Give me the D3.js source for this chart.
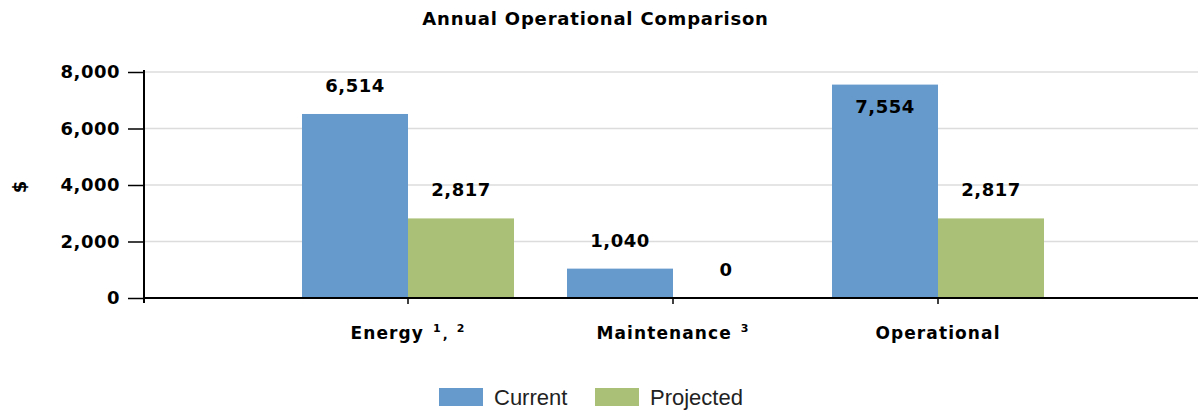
<!DOCTYPE html>
<html>
<head>
<meta charset="utf-8">
<script src="https://cdn.jsdelivr.net/npm/d3@7"></script>
<style>
  html, body { margin: 0; padding: 0; background: #fff; }
  svg { display: block; }
</style>
</head>
<body>
<svg id="chart" width="1198" height="414"></svg>
<script>
// ---- data ----
const categories = ["Energy", "Maintenance", "Operational"];
const categorySup = [["1", "2"], ["3"], []];
const seriesNames = ["Current", "Projected"];
const currentValues = [6514, 1040, 7554];
const projectedValues = [2817, 0, 2817];
const yTicks = [0, 2000, 4000, 6000, 8000];
const colors = ["#6699cc", "#a9c076"];
const titleText = "Annual Operational Comparison";
const yLabel = "$";

const svg = d3.select("#chart");
const plotLeft = 144, plotRight = 1198, plotTop = 72, plotBottom = 298;

const boldFont = "'DejaVu Sans', Verdana, sans-serif";

const x0 = d3.scaleBand().domain(categories).range([275.5, 1070.5]).paddingInner(0.2).paddingOuter(0.1);
const x1 = d3.scaleBand().domain(seriesNames).range([0, x0.bandwidth()]);
const y = d3.scaleLinear().domain([0, 8000]).range([plotBottom, plotTop]);

// gridlines
svg.append("g").selectAll("line").data(yTicks.filter(d => d > 0)).join("line")
  .attr("x1", plotLeft).attr("x2", plotRight)
  .attr("y1", d => y(d)).attr("y2", d => y(d))
  .attr("stroke", "#dcdcdc").attr("stroke-width", 1.5);

// bars
const rows = categories.map((c, i) => ({ cat: c, vals: [currentValues[i], projectedValues[i]] }));
const groups = svg.append("g").selectAll("g").data(rows).join("g")
  .attr("transform", d => `translate(${x0(d.cat)},0)`);
groups.selectAll("rect").data(d => d.vals.map((v, j) => ({ v, s: seriesNames[j], j })))
  .join("rect")
  .attr("x", d => x1(d.s))
  .attr("width", x1.bandwidth())
  .attr("y", d => y(d.v))
  .attr("height", d => plotBottom - y(d.v))
  .attr("fill", d => colors[d.j]);

// value labels
groups.selectAll("text").data(d => d.vals.map((v, j) => ({ v, s: seriesNames[j], j })))
  .join("text")
  .attr("x", d => x1(d.s) + x1.bandwidth() / 2)
  .attr("y", d => {
    const top = y(d.v);
    return (top - 28 < plotTop) ? top + 28 : top - 22;
  })
  .attr("text-anchor", "middle")
  .attr("font-family", boldFont).attr("font-weight", "bold")
  .attr("font-size", 18).attr("letter-spacing", 0.5)
  .attr("fill", "#000")
  .text(d => d3.format(",")(d.v));

// y axis
const yAxis = d3.axisLeft(y).tickValues(yTicks).tickFormat(d3.format(",")).tickSize(16).tickPadding(8);
const gy = svg.append("g").attr("transform", `translate(${plotLeft},0)`).call(yAxis);
gy.select(".domain").attr("stroke", "#000").attr("stroke-width", 2).attr("d", `M0,${plotTop - 2}V${plotBottom + 5}`);
gy.selectAll(".tick line").attr("stroke", "#000").attr("stroke-width", 1.5);
gy.selectAll(".tick text").attr("font-family", boldFont).attr("font-weight", "bold")
  .attr("font-size", 18).attr("letter-spacing", 0.5).attr("fill", "#000");

// x axis
const xAxis = d3.axisBottom(x0).tickSize(6).tickFormat("");
const gx = svg.append("g").attr("transform", `translate(0,${plotBottom})`).call(xAxis);
gx.select(".domain").attr("stroke", "#000").attr("stroke-width", 2).attr("d", `M${plotLeft},0H${plotRight}`);
gx.selectAll(".tick line").attr("stroke", "#000").attr("stroke-width", 1.5);

// x labels with superscripts
const xl = svg.append("g").selectAll("text").data(categories).join("text")
  .attr("x", d => x0(d) + x0.bandwidth() / 2)
  .attr("y", 339)
  .attr("text-anchor", "middle")
  .attr("font-family", boldFont).attr("font-weight", "bold")
  .attr("font-size", 17).attr("letter-spacing", 1.1).attr("fill", "#000");
xl.append("tspan").text(d => d);
xl.each(function (d, i) {
  const t = d3.select(this);
  categorySup[i].forEach((s, k) => {
    if (k > 0) {
      t.append("tspan").attr("font-size", 13).attr("dy", 7).attr("dx", 1).text(",");
      t.append("tspan").attr("font-size", 11).attr("dy", -7).attr("dx", 8).text(s);
    } else {
      t.append("tspan").attr("font-size", 11).attr("dy", -7).attr("dx", 9).text(s);
    }
  });
});

// title
svg.append("text").attr("x", 595.5).attr("y", 25).attr("text-anchor", "middle")
  .attr("font-family", boldFont).attr("font-weight", "bold")
  .attr("font-size", 18).attr("letter-spacing", 0.8).attr("fill", "#000")
  .text(titleText);

// y label
svg.append("text").attr("transform", "translate(26,187) rotate(-90)")
  .attr("text-anchor", "middle")
  .attr("font-family", boldFont).attr("font-weight", "bold")
  .attr("font-size", 18).attr("fill", "#000")
  .text(yLabel);

// legend
const legend = svg.append("g").selectAll("g").data(seriesNames).join("g")
  .attr("transform", (d, i) => `translate(${[439, 595][i]},388)`);
legend.append("rect").attr("width", 44).attr("height", 18).attr("fill", (d, i) => colors[i]);
legend.append("text").attr("x", 55).attr("y", 17)
  .attr("font-family", "'Liberation Sans', Arial, sans-serif")
  .attr("font-size", 22).attr("fill", "#222")
  .text(d => d);
</script>
</body>
</html>
